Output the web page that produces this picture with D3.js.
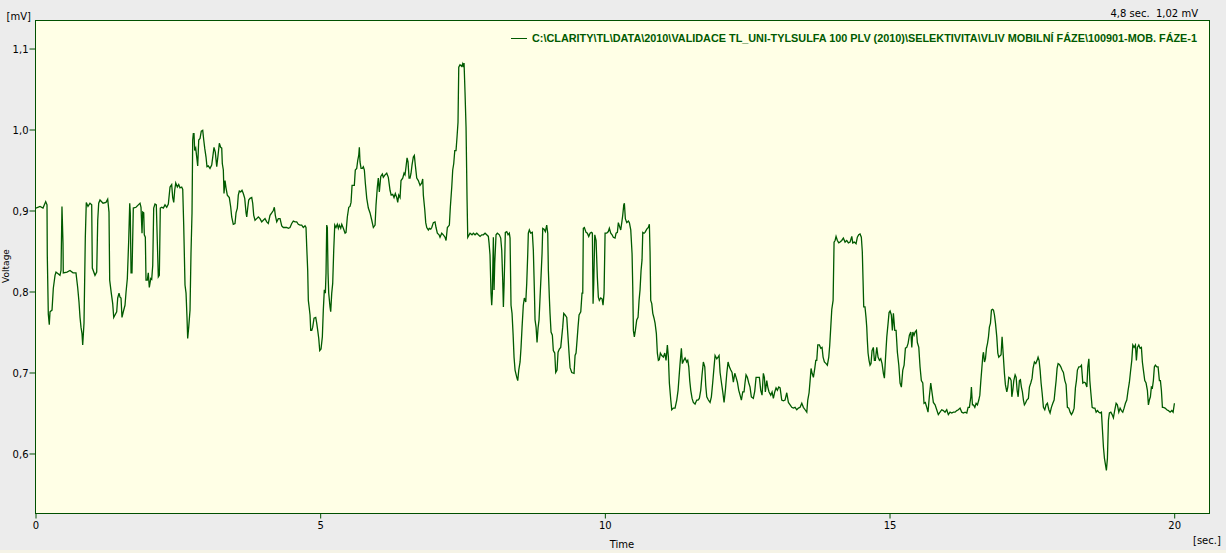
<!DOCTYPE html>
<html><head><meta charset="utf-8">
<script src="https://cdn.jsdelivr.net/npm/d3@7"></script>
<style>html,body{margin:0;padding:0;background:#ececec;overflow:hidden}svg{display:block}</style>
</head><body>
<svg id="c" width="1226" height="553"></svg>
<script>
const time = [
0.009,0.079,0.132,0.179,0.202,0.207,0.225,0.242,0.255,0.290,
0.313,0.343,0.360,0.430,0.448,0.465,0.483,0.488,0.553,0.606,
0.659,0.711,0.741,0.764,0.782,0.799,0.817,0.829,0.852,0.875,
0.892,0.922,0.957,0.987,0.998,1.045,1.075,1.093,1.110,1.133,
1.186,1.238,1.268,1.291,1.303,1.331,1.356,1.374,1.396,1.426,
1.444,1.467,1.484,1.502,1.519,1.542,1.572,1.590,1.613,1.637,
1.655,1.665,1.678,1.695,1.718,1.765,1.806,1.836,1.853,1.871,
1.883,1.901,1.911,1.929,1.941,1.964,1.981,1.999,2.024,2.041,
2.059,2.076,2.099,2.122,2.139,2.157,2.175,2.192,2.217,2.245,
2.275,2.305,2.333,2.363,2.392,2.410,2.428,2.445,2.463,2.491,
2.515,2.538,2.568,2.586,2.603,2.626,2.644,2.661,2.673,2.691,
2.714,2.731,2.749,2.761,2.772,2.784,2.796,2.814,2.832,2.849,
2.867,2.890,2.912,2.937,2.955,2.972,2.995,3.012,3.035,3.065,
3.095,3.113,3.135,3.158,3.183,3.206,3.229,3.253,3.271,3.281,
3.299,3.311,3.329,3.346,3.369,3.404,3.429,3.446,3.474,3.504,
3.522,3.545,3.562,3.580,3.604,3.627,3.650,3.675,3.698,3.710,
3.727,3.745,3.768,3.798,3.815,3.833,3.856,3.885,3.914,3.943,
3.973,4.001,4.031,4.061,4.089,4.119,4.149,4.177,4.195,4.212,
4.237,4.265,4.295,4.325,4.353,4.383,4.412,4.441,4.470,4.500,
4.528,4.558,4.588,4.616,4.646,4.676,4.704,4.734,4.751,4.764,
4.781,4.792,4.809,4.822,4.834,4.852,4.869,4.892,4.922,4.939,
4.957,4.975,4.992,5.015,5.038,5.055,5.073,5.091,5.103,5.115,
5.126,5.138,5.150,5.173,5.185,5.203,5.220,5.238,5.256,5.278,
5.301,5.319,5.336,5.361,5.379,5.407,5.437,5.454,5.477,5.502,
5.524,5.542,5.560,5.582,5.600,5.617,5.642,5.660,5.677,5.688,
5.700,5.718,5.740,5.758,5.776,5.793,5.818,5.846,5.876,5.906,
5.934,5.964,5.981,6.004,6.021,6.039,6.064,6.092,6.109,6.139,
6.169,6.197,6.227,6.247,6.274,6.297,6.320,6.345,6.362,6.380,
6.403,6.420,6.450,6.473,6.490,6.508,6.526,6.543,6.561,6.578,
6.596,6.613,6.636,6.654,6.671,6.696,6.724,6.754,6.784,6.801,
6.812,6.837,6.854,6.872,6.900,6.917,6.942,6.960,6.988,7.017,
7.035,7.058,7.088,7.105,7.135,7.163,7.193,7.211,7.234,7.269,
7.286,7.311,7.328,7.346,7.364,7.386,7.404,7.421,7.434,7.456,
7.486,7.503,7.514,7.527,7.544,7.562,7.580,7.592,7.632,7.667,
7.690,7.720,7.750,7.778,7.808,7.838,7.866,7.896,7.925,7.954,
7.966,7.983,8.001,8.013,8.024,8.042,8.054,8.066,8.089,8.112,
8.147,8.171,8.189,8.206,8.218,8.230,8.242,8.252,8.277,8.300,
8.322,8.335,8.352,8.370,8.388,8.405,8.423,8.453,8.470,8.488,
8.511,8.528,8.546,8.568,8.586,8.611,8.628,8.646,8.656,8.674,
8.698,8.726,8.744,8.762,8.774,8.792,8.809,8.827,8.844,8.862,
8.880,8.897,8.909,8.932,8.955,8.979,8.997,9.008,9.025,9.037,
9.055,9.078,9.095,9.120,9.137,9.160,9.178,9.201,9.225,9.243,
9.260,9.278,9.301,9.331,9.349,9.371,9.389,9.419,9.459,9.477,
9.494,9.512,9.529,9.547,9.577,9.599,9.612,9.622,9.640,9.670,
9.693,9.717,9.740,9.763,9.781,9.793,9.805,9.823,9.846,9.868,
9.886,9.903,9.928,9.951,9.968,9.986,10.004,10.033,10.061,10.079,
10.104,10.127,10.149,10.179,10.197,10.220,10.237,10.255,10.279,10.297,
10.314,10.332,10.343,10.360,10.385,10.413,10.431,10.455,10.478,10.490,
10.501,10.518,10.536,10.560,10.583,10.601,10.618,10.636,10.653,10.666,
10.689,10.706,10.736,10.764,10.782,10.794,10.806,10.824,10.842,10.864,
10.882,10.905,10.922,10.940,10.957,10.975,11.000,11.028,11.052,11.075,
11.098,11.116,11.133,11.158,11.175,11.203,11.233,11.263,11.286,11.303,
11.321,11.344,11.362,11.386,11.409,11.438,11.456,11.474,11.491,11.509,
11.532,11.554,11.584,11.614,11.637,11.660,11.684,11.707,11.730,11.755,
11.772,11.790,11.818,11.848,11.871,11.895,11.918,11.936,11.966,11.988,
12.006,12.024,12.047,12.071,12.094,12.117,12.142,12.164,12.187,12.212,
12.234,12.257,12.282,12.305,12.328,12.352,12.375,12.398,12.422,12.445,
12.463,12.480,12.503,12.528,12.550,12.573,12.608,12.633,12.656,12.691,
12.714,12.738,12.761,12.784,12.802,12.819,12.844,12.862,12.884,12.914,
12.937,12.960,12.984,13.007,13.030,13.055,13.078,13.107,13.135,13.165,
13.195,13.224,13.254,13.283,13.311,13.341,13.371,13.399,13.429,13.459,
13.487,13.517,13.547,13.564,13.587,13.605,13.622,13.640,13.663,13.687,
13.705,13.722,13.740,13.768,13.793,13.815,13.833,13.856,13.886,13.908,
13.933,13.950,13.968,13.986,14.009,14.026,14.044,14.061,14.084,14.109,
14.131,14.161,14.189,14.219,14.249,14.277,14.307,14.337,14.354,14.382,
14.412,14.435,14.459,14.482,14.505,14.522,14.535,14.547,14.569,14.587,
14.600,14.610,14.623,14.640,14.658,14.675,14.693,14.716,14.734,14.751,
14.776,14.798,14.822,14.846,14.869,14.892,14.910,14.927,14.952,14.975,
14.992,15.010,15.032,15.050,15.068,15.092,15.115,15.138,15.163,15.185,
15.208,15.233,15.256,15.279,15.303,15.326,15.349,15.374,15.391,15.409,
15.431,15.449,15.472,15.489,15.514,15.536,15.559,15.584,15.606,15.629,
15.654,15.676,15.699,15.724,15.747,15.770,15.800,15.829,15.857,15.887,
15.917,15.945,15.975,16.005,16.033,16.063,16.093,16.121,16.151,16.181,
16.209,16.239,16.269,16.297,16.327,16.357,16.380,16.403,16.428,16.438,
16.456,16.474,16.498,16.521,16.544,16.568,16.586,16.604,16.621,16.639,
16.650,16.668,16.685,16.703,16.721,16.738,16.754,16.773,16.790,16.808,
16.826,16.843,16.861,16.884,16.902,16.919,16.959,16.977,17.000,17.018,
17.035,17.060,17.077,17.095,17.118,17.136,17.148,17.165,17.183,17.206,
17.224,17.241,17.259,17.281,17.299,17.316,17.334,17.352,17.369,17.387,
17.411,17.439,17.457,17.481,17.504,17.521,17.545,17.569,17.592,17.609,
17.627,17.645,17.662,17.680,17.703,17.727,17.750,17.773,17.798,17.820,
17.843,17.868,17.891,17.908,17.926,17.943,17.961,17.984,18.008,18.031,
18.054,18.079,18.101,18.124,18.149,18.172,18.195,18.219,18.242,18.265,
18.283,18.300,18.325,18.348,18.371,18.395,18.418,18.441,18.466,18.483,
18.501,18.518,18.536,18.559,18.582,18.607,18.629,18.652,18.677,18.699,
18.722,18.740,18.757,18.775,18.809,18.827,18.845,18.862,18.887,18.910,
18.932,18.957,18.980,19.002,19.027,19.050,19.073,19.097,19.120,19.143,
19.167,19.190,19.213,19.231,19.255,19.273,19.296,19.319,19.336,19.354,
19.378,19.401,19.424,19.441,19.459,19.483,19.506,19.529,19.547,19.564,
19.582,19.599,19.617,19.634,19.652,19.670,19.694,19.717,19.740,19.758,
19.775,19.793,19.810,19.840,19.870,19.898,19.928,19.958,19.981,20.004
];
const voltage = [
0.903,0.905,0.903,0.911,0.907,0.845,0.772,0.759,0.775,0.777,
0.804,0.820,0.824,0.820,0.826,0.905,0.860,0.823,0.824,0.826,
0.823,0.823,0.805,0.787,0.768,0.756,0.748,0.734,0.761,0.867,
0.910,0.905,0.909,0.907,0.829,0.820,0.824,0.888,0.909,0.913,
0.909,0.910,0.914,0.898,0.814,0.798,0.785,0.768,0.771,0.775,
0.792,0.798,0.793,0.792,0.768,0.775,0.783,0.799,0.816,0.863,
0.909,0.897,0.823,0.823,0.903,0.904,0.907,0.909,0.904,0.872,
0.898,0.897,0.870,0.867,0.814,0.814,0.823,0.805,0.816,0.815,
0.832,0.903,0.908,0.907,0.863,0.818,0.820,0.903,0.904,0.903,
0.907,0.904,0.908,0.929,0.932,0.916,0.910,0.925,0.934,0.929,
0.932,0.928,0.929,0.926,0.882,0.808,0.798,0.768,0.742,0.756,
0.777,0.847,0.897,0.987,0.995,0.995,0.974,0.977,0.966,0.955,
0.987,0.989,0.998,0.999,0.987,0.977,0.966,0.954,0.955,0.952,
0.956,0.966,0.978,0.972,0.954,0.968,0.983,0.978,0.977,0.958,
0.950,0.921,0.937,0.928,0.919,0.916,0.904,0.892,0.883,0.884,
0.897,0.903,0.919,0.924,0.923,0.925,0.921,0.915,0.897,0.892,
0.903,0.913,0.915,0.916,0.909,0.894,0.888,0.890,0.892,0.890,
0.886,0.888,0.890,0.886,0.884,0.894,0.897,0.900,0.904,0.894,
0.886,0.890,0.890,0.881,0.879,0.879,0.879,0.878,0.879,0.884,
0.887,0.886,0.886,0.883,0.882,0.882,0.879,0.881,0.879,0.855,
0.826,0.789,0.779,0.771,0.752,0.752,0.756,0.767,0.768,0.761,
0.752,0.742,0.727,0.729,0.744,0.777,0.802,0.798,0.823,0.882,
0.879,0.823,0.798,0.781,0.775,0.798,0.810,0.851,0.882,0.879,
0.883,0.878,0.882,0.878,0.883,0.878,0.872,0.873,0.892,0.904,
0.905,0.910,0.931,0.931,0.931,0.950,0.952,0.962,0.968,0.978,
0.960,0.952,0.952,0.954,0.950,0.934,0.915,0.903,0.897,0.888,
0.879,0.882,0.907,0.929,0.940,0.923,0.942,0.945,0.941,0.944,
0.946,0.941,0.925,0.919,0.920,0.916,0.921,0.916,0.910,0.919,
0.916,0.937,0.940,0.946,0.944,0.954,0.965,0.960,0.940,0.940,
0.946,0.956,0.966,0.968,0.956,0.940,0.937,0.931,0.934,0.939,
0.919,0.901,0.885,0.879,0.876,0.878,0.877,0.879,0.885,0.886,
0.879,0.872,0.870,0.867,0.872,0.870,0.867,0.863,0.879,0.882,
0.904,0.929,0.950,0.958,0.974,0.974,0.991,1.009,1.077,1.080,
1.078,1.081,1.077,1.082,1.046,1.003,0.913,0.867,0.872,0.870,
0.872,0.870,0.872,0.870,0.868,0.870,0.870,0.872,0.870,0.868,
0.860,0.845,0.798,0.783,0.798,0.867,0.802,0.835,0.870,0.872,
0.870,0.866,0.851,0.814,0.781,0.808,0.841,0.873,0.874,0.870,
0.872,0.866,0.783,0.773,0.748,0.719,0.703,0.694,0.690,0.703,
0.713,0.731,0.756,0.783,0.792,0.787,0.810,0.847,0.872,0.876,
0.872,0.873,0.851,0.802,0.765,0.756,0.737,0.755,0.765,0.793,
0.820,0.847,0.878,0.877,0.874,0.882,0.872,0.826,0.793,0.773,
0.750,0.746,0.727,0.724,0.700,0.703,0.725,0.729,0.731,0.744,
0.756,0.773,0.771,0.768,0.748,0.724,0.706,0.700,0.699,0.721,
0.724,0.740,0.756,0.771,0.775,0.798,0.798,0.878,0.879,0.873,
0.872,0.868,0.872,0.873,0.872,0.785,0.810,0.870,0.863,0.818,
0.793,0.789,0.792,0.791,0.783,0.798,0.872,0.872,0.874,0.878,
0.872,0.870,0.867,0.866,0.872,0.873,0.885,0.881,0.876,0.885,
0.894,0.907,0.909,0.890,0.885,0.887,0.885,0.876,0.847,0.806,
0.752,0.744,0.752,0.765,0.768,0.789,0.802,0.826,0.839,0.873,
0.872,0.873,0.877,0.879,0.883,0.849,0.789,0.785,0.773,0.767,
0.761,0.748,0.724,0.715,0.716,0.724,0.721,0.719,0.724,0.715,
0.734,0.719,0.687,0.666,0.654,0.656,0.656,0.666,0.678,0.694,
0.711,0.730,0.711,0.715,0.718,0.713,0.715,0.707,0.690,0.678,
0.668,0.663,0.661,0.666,0.666,0.668,0.678,0.697,0.713,0.707,
0.684,0.670,0.666,0.663,0.670,0.688,0.707,0.721,0.717,0.719,
0.721,0.700,0.688,0.676,0.663,0.678,0.699,0.713,0.707,0.703,
0.700,0.688,0.699,0.694,0.688,0.678,0.672,0.666,0.676,0.676,
0.688,0.697,0.694,0.687,0.682,0.670,0.668,0.677,0.694,0.694,
0.694,0.678,0.672,0.699,0.694,0.676,0.690,0.682,0.676,0.672,
0.676,0.668,0.676,0.681,0.678,0.682,0.681,0.666,0.665,0.666,
0.675,0.663,0.660,0.657,0.656,0.657,0.654,0.656,0.657,0.662,
0.657,0.654,0.651,0.666,0.675,0.690,0.705,0.699,0.694,0.705,
0.715,0.715,0.734,0.734,0.730,0.731,0.719,0.713,0.711,0.709,
0.719,0.734,0.756,0.778,0.789,0.861,0.863,0.868,0.863,0.860,
0.861,0.863,0.866,0.861,0.863,0.860,0.861,0.868,0.860,0.861,
0.859,0.867,0.870,0.871,0.867,0.849,0.814,0.781,0.781,0.768,
0.756,0.740,0.724,0.715,0.709,0.711,0.727,0.731,0.715,0.715,
0.731,0.719,0.715,0.717,0.711,0.699,0.693,0.715,0.744,0.761,
0.774,0.776,0.771,0.752,0.773,0.752,0.752,0.725,0.709,0.687,
0.682,0.703,0.709,0.730,0.731,0.736,0.746,0.750,0.731,0.750,
0.746,0.750,0.752,0.737,0.731,0.707,0.690,0.687,0.662,0.663,
0.657,0.651,0.670,0.687,0.675,0.663,0.660,0.654,0.648,0.651,
0.654,0.653,0.651,0.654,0.648,0.651,0.650,0.651,0.651,0.653,
0.654,0.656,0.651,0.650,0.651,0.650,0.657,0.657,0.670,0.682,
0.660,0.660,0.657,0.662,0.660,0.666,0.672,0.690,0.705,0.721,
0.725,0.713,0.717,0.730,0.736,0.744,0.756,0.761,0.777,0.778,
0.777,0.771,0.761,0.744,0.724,0.719,0.722,0.744,0.719,0.699,
0.685,0.676,0.682,0.694,0.693,0.690,0.670,0.678,0.690,0.697,
0.694,0.678,0.670,0.690,0.691,0.682,0.676,0.666,0.660,0.662,
0.666,0.668,0.682,0.687,0.693,0.705,0.713,0.711,0.715,0.719,
0.715,0.703,0.687,0.675,0.657,0.654,0.660,0.662,0.654,0.650,
0.657,0.662,0.666,0.678,0.690,0.705,0.711,0.710,0.707,0.703,
0.700,0.690,0.685,0.657,0.656,0.651,0.648,0.651,0.656,0.681,
0.690,0.703,0.707,0.707,0.709,0.687,0.688,0.687,0.682,0.707,
0.717,0.690,0.675,0.657,0.656,0.656,0.651,0.653,0.651,0.650,
0.651,0.629,0.608,0.594,0.579,0.594,0.641,0.650,0.651,0.648,
0.644,0.654,0.662,0.660,0.651,0.656,0.653,0.651,0.656,0.662,
0.666,0.678,0.688,0.700,0.715,0.734,0.731,0.734,0.715,0.731,
0.734,0.730,0.731,0.713,0.703,0.690,0.687,0.678,0.660,0.666,
0.670,0.682,0.681,0.690,0.707,0.709,0.707,0.707,0.690,0.690,
0.678,0.657,0.657,0.656,0.654,0.653,0.651,0.653,0.651,0.662
];
const xTicks = [0, 5, 10, 15, 20];
const yTicks = [0.6, 0.7, 0.8, 0.9, 1.0, 1.1];
const seriesName = "C:\\CLARITY\\TL\\DATA\\2010\\VALIDACE TL_UNI-TYLSULFA 100 PLV (2010)\\SELEKTIVITA\\VLIV MOBILNÍ FÁZE\\100901-MOB. FÁZE-1";
const cursorText = "4,8 sec.  1,02 mV";
const xTitle = "Time", yTitle = "Voltage", xUnit = "[sec.]", yUnit = "[mV]";

const GREEN = "#005a00", FRAME = "#005000", PLOTBG = "#ffffe6";
const FONT = "DejaVu Sans";
const L = 35.5, R = 1209.5, T = 20.5, B = 513.5;

const svg = d3.select("#c");
svg.append("rect").attr("x",0).attr("y",0).attr("width",1226).attr("height",553).attr("fill","#ececec");
svg.append("rect").attr("x",0).attr("y",550).attr("width",1226).attr("height",3).attr("fill","#f5f3e6");

const x = d3.scaleLinear().domain([0, 20.62]).range([L, R]);
const y = d3.scaleLinear().domain([0.5259, 1.1346]).range([B, T]);

svg.append("rect").attr("x",L).attr("y",T).attr("width",R-L).attr("height",B-T)
  .attr("fill",PLOTBG);

svg.append("clipPath").attr("id","clip").append("rect")
  .attr("x",L).attr("y",T).attr("width",R-L).attr("height",B-T);

const pts = time.map((t,i)=>[t, voltage[i]]);
const line = d3.line().x(d=>x(d[0])).y(d=>y(d[1]));
svg.append("path").datum(pts).attr("clip-path","url(#clip)")
  .attr("d",line).attr("fill","none").attr("stroke",GREEN).attr("stroke-width",1.3)
  .attr("stroke-linejoin","miter");

svg.append("rect").attr("x",L).attr("y",T).attr("width",R-L).attr("height",B-T)
  .attr("fill","none").attr("stroke",FRAME).attr("stroke-width",1);

const loc = d3.formatLocale({decimal:",", thousands:" ", grouping:[3], currency:["",""]});
const yf = loc.format(".1f");

const gy = svg.append("g").attr("transform",`translate(${L},0)`)
  .call(d3.axisLeft(y).tickValues(yTicks).tickSize(6).tickPadding(1).tickFormat(yf));
gy.select(".domain").remove();
gy.selectAll(".tick line").attr("stroke",FRAME);
gy.selectAll(".tick text").attr("font-family",FONT).attr("font-size","10px").attr("fill","#000").attr("dy","0.4em");

const gx = svg.append("g").attr("transform",`translate(0,${B})`)
  .call(d3.axisBottom(x).tickValues(xTicks).tickSize(5).tickPadding(3.5).tickFormat(d=>String(d)));
gx.select(".domain").remove();
gx.selectAll(".tick line").attr("stroke",FRAME);
gx.selectAll(".tick text").attr("font-family",FONT).attr("font-size","10px").attr("fill","#000");

const txt = (s,px,py,anchor,opts={}) => {
  const t = svg.append("text").attr("x",px).attr("y",py).attr("text-anchor",anchor)
    .attr("font-family",opts.family||FONT).attr("font-size",opts.size||"10px")
    .attr("fill",opts.fill||"#000").style("white-space","pre").text(s);
  if (opts.weight) t.attr("font-weight",opts.weight);
  return t;
};
txt(yUnit, 6.5, 20, "start");
txt(cursorText, 1198, 16.5, "end");
txt(xTitle, 622, 548, "middle");
txt(xUnit, 1193, 543.5, "start");
svg.append("text").attr("transform","translate(9,266) rotate(-90)")
  .attr("text-anchor","middle").attr("font-family",FONT).attr("font-size","9px")
  .attr("fill","#000").text(yTitle);

svg.append("line").attr("x1",511).attr("x2",527).attr("y1",38.5).attr("y2",38.5)
  .attr("stroke",GREEN).attr("stroke-width",1);
txt(seriesName, 532, 42, "start", {family:"Liberation Sans", size:"11px", weight:"bold", fill:GREEN})
  .attr("textLength",665).attr("lengthAdjust","spacingAndGlyphs");
</script>
</body></html>
